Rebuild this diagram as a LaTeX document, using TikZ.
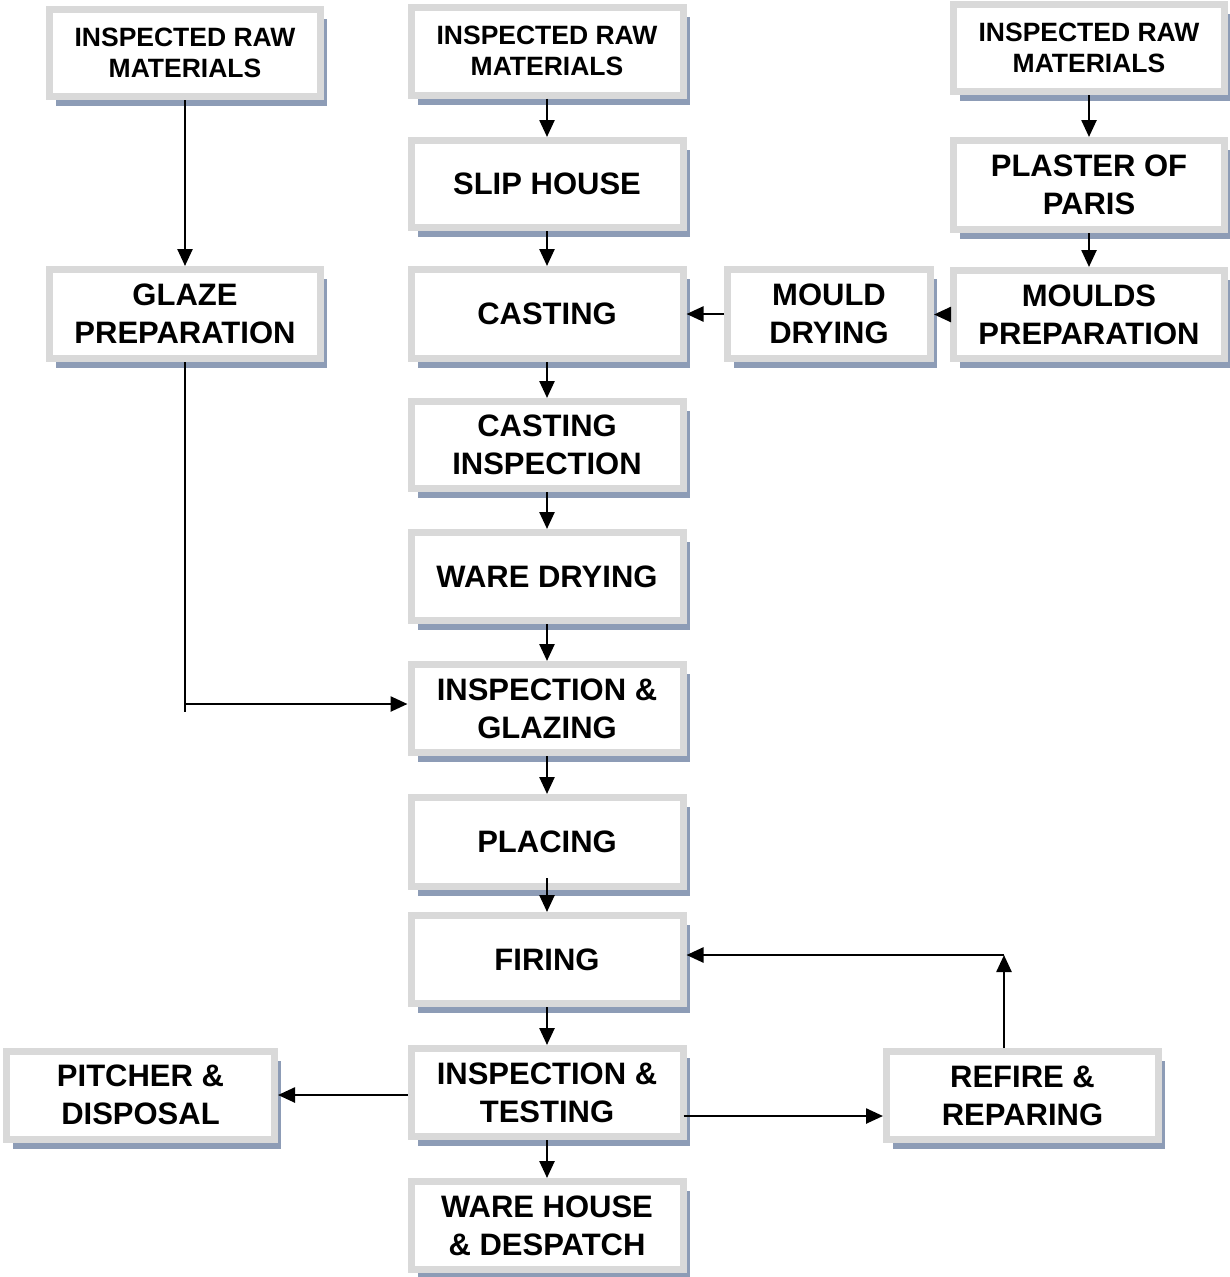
\documentclass[tikz,border=0pt]{standalone}
\usepackage{fontspec}
\setmainfont{Liberation Sans}
\usetikzlibrary{arrows.meta,shadows,calc}
\definecolor{boxgray}{RGB}{217,217,217}
\definecolor{shadowc}{RGB}{141,156,182}
\begin{document}
\begin{tikzpicture}[x=1pt,y=-1pt,
  box/.style={draw=boxgray, line width=7pt, fill=white, inner sep=0pt, align=center,
    font=\fontsize{31}{38}\selectfont\bfseries,
    drop shadow={shadow xshift=6.5pt, shadow yshift=-9.5pt, fill=shadowc, opacity=1}},
  rawtxt/.style={font=\fontsize{26.5}{31.5}\selectfont\bfseries},
  sz/.style 2 args={minimum width={#1pt-7pt}, minimum height={#2pt-7pt}},
  flow/.style={line width=2.5pt, -{Triangle[length=17pt,width=15pt]}},
  plain/.style={line width=2.5pt}]
\useasboundingbox (0,0) rectangle (1230,1277);

% glaze branch
\node[box, sz={278}{94}, rawtxt] (raw1) at (185,53) {INSPECTED RAW\\MATERIALS};
\node[box, sz={278}{96}] (glaze) at (185,314) {GLAZE\\PREPARATION};

% main process line
\node[box, sz={279}{95}, rawtxt] (raw2) at (547,51) {INSPECTED RAW\\MATERIALS};
\node[box, sz={279}{94}] (slip) at (547,184) {SLIP HOUSE};
\node[box, sz={279}{96}] (cast) at (547,314) {CASTING};
\node[box, sz={279}{94}] (ci) at (547,445) {CASTING\\INSPECTION};
\node[box, sz={279}{95}] (wd) at (547,576.5) {WARE DRYING};
\node[box, sz={279}{95}] (ig) at (547,708.5) {INSPECTION \&\\GLAZING};
\node[box, sz={279}{96}] (plac) at (547,842) {PLACING};
\node[box, sz={279}{95}] (fir) at (547,959.5) {FIRING};
\node[box, sz={279}{95}] (it) at (547,1092.5) {INSPECTION \&\\TESTING};
\node[box, sz={279}{95}] (wh) at (547,1225.5) {WARE HOUSE\\\& DESPATCH};

% mould branch
\node[box, sz={278}{94}, rawtxt] (raw3) at (1089,48) {INSPECTED RAW\\MATERIALS};
\node[box, sz={278}{96}] (plaster) at (1089,185) {PLASTER OF\\PARIS};
\node[box, sz={278}{95}] (mp) at (1089,314.5) {MOULDS\\PREPARATION};
\node[box, sz={210}{96}] (md) at (829,314) {MOULD\\DRYING};

% outcomes of testing
\node[box, sz={275}{95}] (pitch) at (140.5,1095) {PITCHER \&\\DISPOSAL};
\node[box, sz={279}{95}] (refire) at (1022.5,1095.5) {REFIRE \&\\REPARING};

% connectors
\coordinate (gj) at (185,704);
\coordinate (gend) at (185,712);
\coordinate (rc) at (1004,955);
\coordinate (itr) at ($(it.east)+(-3,23.5)$);
\coordinate (placout) at ($(plac.south)+(0,-12)$);

\draw[flow] (raw1) -- (glaze);
\draw[plain] (glaze.south) -- (gend);
\draw[flow] (gj) -- (gj -| ig.west);

\draw[flow] (raw2) -- (slip);
\draw[flow] (slip) -- (cast);
\draw[flow] (cast) -- (ci);
\draw[flow] (ci) -- (wd);
\draw[flow] (wd) -- (ig);
\draw[flow] (ig) -- (plac);
\draw[flow] (placout) -- (fir.north);
\draw[flow] (fir) -- (it);
\draw[flow] (it) -- (wh);

\draw[flow] (raw3) -- (plaster);
\draw[flow] (plaster) -- (mp);
\draw[flow] (mp.west) -- (mp.west -| md.east);
\draw[flow] (md) -- (cast);

\draw[flow] (it.west |- pitch.east) -- (pitch.east);
\draw[flow] (itr) -- (refire.west |- itr);
\draw[flow] (refire.north -| rc) -- (rc);
\draw[flow] (rc) -- (rc -| fir.east);
\end{tikzpicture}
\end{document}
